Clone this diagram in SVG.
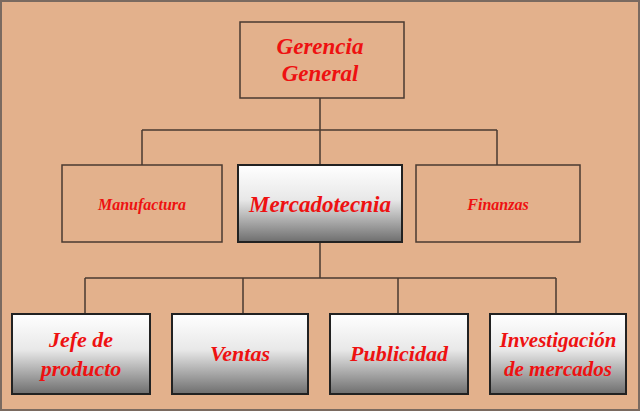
<svg xmlns="http://www.w3.org/2000/svg" width="640" height="411" viewBox="0 0 640 411">
<defs>
<linearGradient id="g" x1="0" y1="0" x2="0" y2="1">
<stop offset="0" stop-color="#ffffff"/><stop offset="0.45" stop-color="#e8e8e8"/><stop offset="1" stop-color="#6e6e6e"/>
</linearGradient>
<style>
.p{fill:#e3b18c;stroke:#4a3a30;stroke-width:1.5}
.gr{fill:url(#g);stroke:#222;stroke-width:2}
text{font-family:"Liberation Serif",serif;font-weight:bold;font-style:italic;fill:#ee1111;text-anchor:middle}
.c{stroke:#4a3a30;stroke-width:1.5;fill:none}
</style>
</defs>
<rect x="0" y="0" width="640" height="411" fill="#e3b18c" stroke="#7a6a60" stroke-width="4"/>
<g id="connectors">
<path class="c" d="M320 98V130M142 130H497M142 130V165M320 130V165M497 130V165M320 242V278M85 278H556M85 278V314M243 278V314M398 278V314M556 278V314"/>
</g>
<g id="gerencia"><rect class="p" x="240" y="22" width="164" height="76"/><text x="320" y="54" font-size="23">Gerencia</text><text x="320" y="81" font-size="23">General</text></g>
<g id="manufactura"><rect class="p" x="62" y="165" width="160" height="77"/><text x="142" y="210" font-size="16">Manufactura</text></g>
<g id="mercadotecnia"><rect class="gr" x="238" y="165" width="164" height="77"/><text x="320" y="212" font-size="23">Mercadotecnia</text></g>
<g id="finanzas"><rect class="p" x="416" y="165" width="164" height="77"/><text x="498" y="210" font-size="16">Finanzas</text></g>
<g id="jefe"><rect class="gr" x="12" y="314" width="138" height="80"/><text x="81" y="347" font-size="22">Jefe de</text><text x="81" y="376" font-size="22">producto</text></g>
<g id="ventas"><rect class="gr" x="172" y="314" width="136" height="80"/><text x="240" y="361" font-size="22">Ventas</text></g>
<g id="publicidad"><rect class="gr" x="330" y="314" width="138" height="80"/><text x="399" y="361" font-size="22">Publicidad</text></g>
<g id="investigacion"><rect class="gr" x="490" y="314" width="136" height="80"/><text x="558" y="347" font-size="21">Investigación</text><text x="558" y="376" font-size="21">de mercados</text></g>
</svg>
